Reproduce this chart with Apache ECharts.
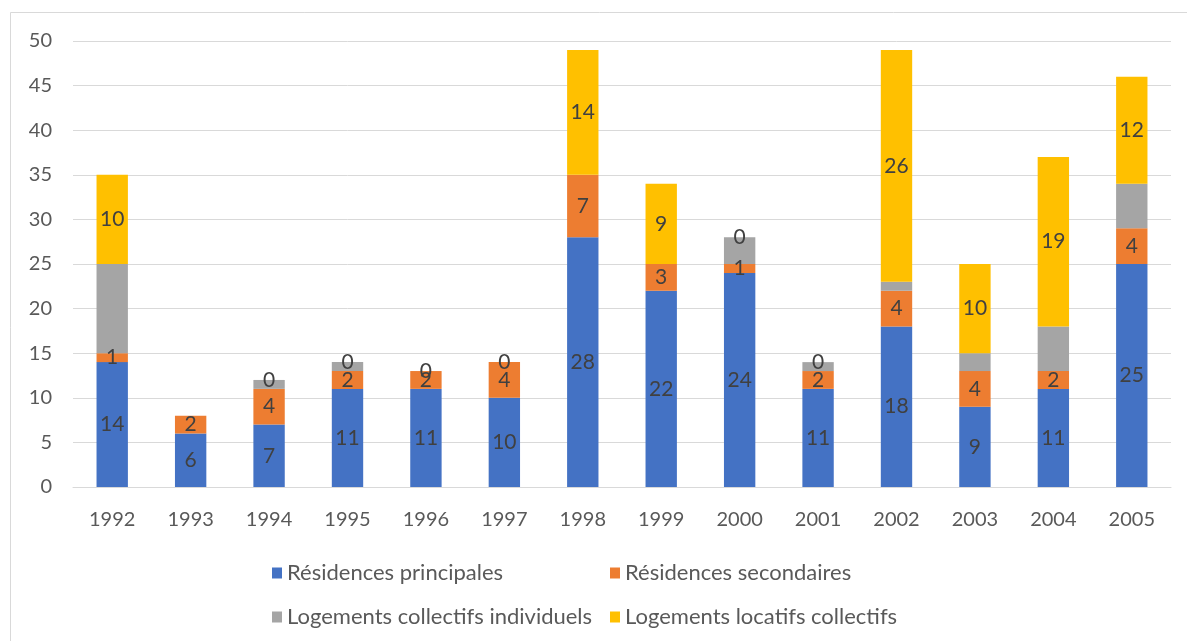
<!DOCTYPE html>
<html>
<head>
<meta charset="utf-8">
<script src="https://cdn.jsdelivr.net/npm/echarts@6/dist/echarts.min.js"></script>
<style>
html,body{margin:0;padding:0;background:#fff;}
#chart{width:1187px;height:641px;}
</style>
</head>
<body>
<div id="chart"></div>
<script>
const years = ['1992','1993','1994','1995','1996','1997','1998','1999','2000','2001','2002','2003','2004','2005'];
const residencesPrincipales = [14, 6, 7, 11, 11, 10, 28, 22, 24, 11, 18, 9, 11, 25];
const residencesSecondaires = [1, 2, 4, 2, 2, 4, 7, 3, 1, 2, 4, 4, 2, 4];
const logementsCollectifsIndividuels = [10, 0, 1, 1, 0, 0, 0, 0, 3, 1, 1, 2, 5, 5];
const logementsLocatifsCollectifs = [10, null, 0, 0, 0, 0, 14, 9, 0, 0, 26, 10, 19, 12];
const seriesNames = ['Résidences principales','Résidences secondaires','Logements collectifs individuels','Logements locatifs collectifs'];
const colors = ['#4472C4','#ED7D31','#A5A5A5','#FFC000'];
const yTicks = {min: 0, max: 50, interval: 5};

const FONT = 'Lato';
const labelStyle = {show: true, position: 'inside', color: '#404040', fontFamily: FONT, fontSize: 21};

function mk(name, data, idx, showLabel) {
  return {
    name: name, type: 'bar', stack: 'total', data: data, barWidth: '40%',
    itemStyle: {color: colors[idx]},
    label: showLabel ? labelStyle : {show: false},
    emphasis: {disabled: true}
  };
}

const legendText = {color: '#595959', fontFamily: FONT, fontSize: 22, lineHeight: 24};

const chart = echarts.init(document.getElementById('chart'), null, {renderer: 'canvas'});
chart.setOption({
  animation: false,
  backgroundColor: '#fff',
  graphic: [{
    type: 'rect', shape: {x: 10.5, y: 12.5, width: 1190, height: 640},
    style: {fill: 'none', stroke: '#D9D9D9', lineWidth: 1}, silent: true, z: -1
  }],
  grid: {left: 73, right: 16, top: 41, bottom: 154, containLabel: false},
  xAxis: {
    type: 'category', data: years,
    axisLine: {show: true, lineStyle: {color: '#D9D9D9', width: 1}},
    axisTick: {show: false},
    axisLabel: {color: '#595959', fontFamily: FONT, fontSize: 20, margin: 23}
  },
  yAxis: {
    type: 'value', min: yTicks.min, max: yTicks.max, interval: yTicks.interval,
    axisLine: {show: false}, axisTick: {show: false},
    axisLabel: {color: '#595959', fontFamily: FONT, fontSize: 20, margin: 21},
    splitLine: {lineStyle: {color: '#D9D9D9', width: 1}}
  },
  legend: [
    {orient: 'vertical', left: 272, top: 561, padding: 0, itemWidth: 10, itemHeight: 11, itemGap: 20,
     icon: 'rect', data: [seriesNames[0], seriesNames[2]], textStyle: legendText},
    {orient: 'vertical', left: 610, top: 561, padding: 0, itemWidth: 10, itemHeight: 11, itemGap: 20,
     icon: 'rect', data: [seriesNames[1], seriesNames[3]], textStyle: legendText}
  ],
  series: [
    mk(seriesNames[0], residencesPrincipales, 0, true),
    mk(seriesNames[1], residencesSecondaires, 1, true),
    mk(seriesNames[2], logementsCollectifsIndividuels, 2, false),
    mk(seriesNames[3], logementsLocatifsCollectifs, 3, true)
  ]
});
</script>
</body>
</html>
